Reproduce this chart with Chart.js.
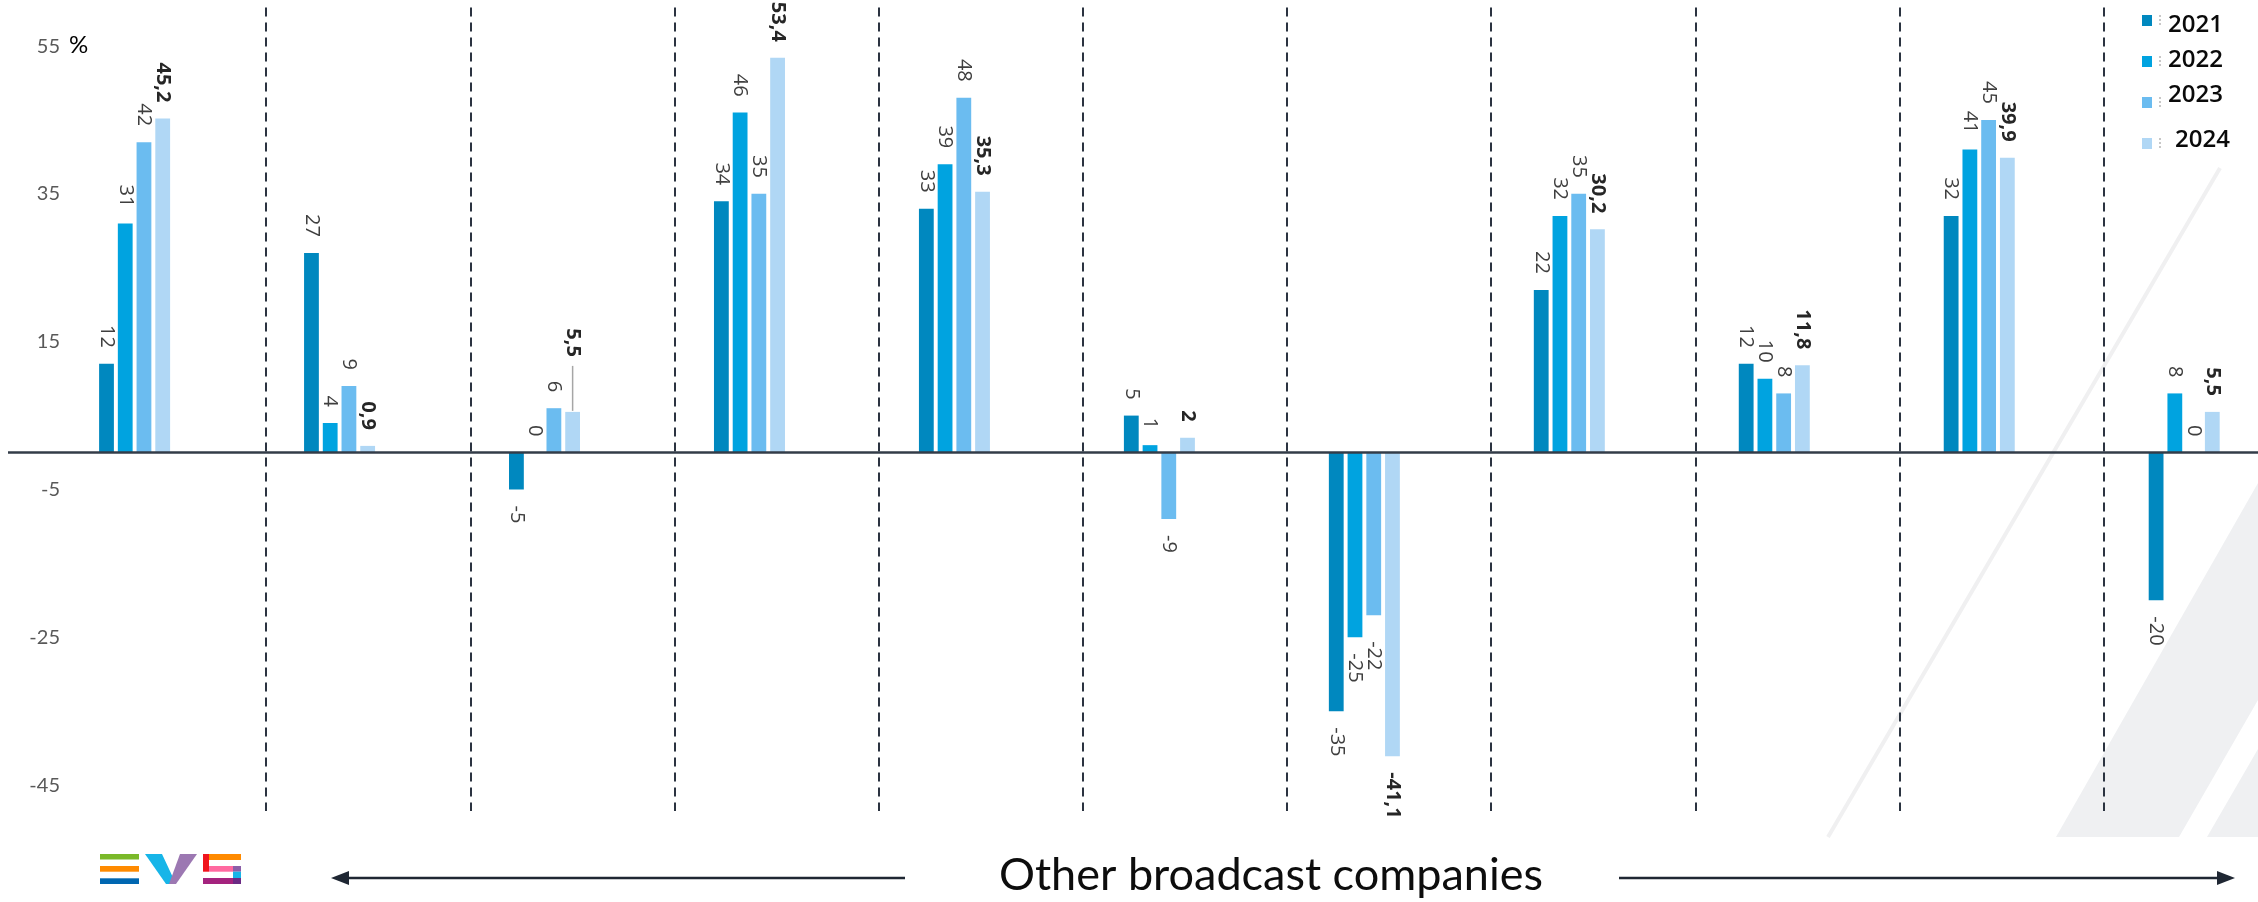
<!DOCTYPE html>
<html>
<head>
<meta charset="utf-8">
<script src="https://cdn.jsdelivr.net/npm/chart.js@4.4.1/dist/chart.umd.min.js"></script>
<style>
  html, body { margin: 0; padding: 0; background: #ffffff; }
  #wrap { width: 2258px; height: 902px; position: relative; }
</style>
</head>
<body>
<div id="wrap"><canvas id="c"></canvas></div>
<script>
// ---------- data ----------
const companies = ['C1', 'C2', 'C3', 'C4', 'C5', 'C6', 'C7', 'C8', 'C9', 'C10', 'C11'];
const years = ['2021', '2022', '2023', '2024'];
const values2021 = [12, 27, -5, 34, 33, 5, -35, 22, 12, 32, -20];
const values2022 = [31, 4, 0, 46, 39, 1, -25, 32, 10, 41, 8];
const values2023 = [42, 9, 6, 35, 48, -9, -22, 35, 8, 45, 0];
const values2024 = [45.2, 0.9, 5.5, 53.4, 35.3, 2, -41.1, 30.2, 11.8, 39.9, 5.5];
const yTickValues = [55, 35, 15, -5, -25, -45];
const axisUnit = '%';
const bottomTitle = 'Other broadcast companies';

// ---------- styles ----------
const yearColors = ['#0088bf', '#00a3e0', '#6bbcf0', '#b0d7f5'];
const seriesValues = [values2021, values2022, values2023, values2024];

const fmt = v => String(v).replace('.', ',');

// label adjustments (dataset:index) as in the reference
const labelTweaks = { '3:2': { lift: 39, leader: true }, '2:6': { drop: 10 } };

const decorPlugin = {
  id: 'decor',
  beforeDraw(chart) {
    const ctx = chart.ctx;
    ctx.save();
    ctx.fillStyle = '#eff0f2';
    ctx.beginPath();
    ctx.moveTo(2056, 837); ctx.lineTo(2179, 837); ctx.lineTo(2258, 700); ctx.lineTo(2258, 483);
    ctx.closePath(); ctx.fill();
    ctx.beginPath();
    ctx.moveTo(2207, 837); ctx.lineTo(2258, 837); ctx.lineTo(2258, 749);
    ctx.closePath(); ctx.fill();
    ctx.strokeStyle = '#f0f0f1';
    ctx.lineWidth = 4;
    ctx.beginPath(); ctx.moveTo(2220, 168); ctx.lineTo(1828, 837); ctx.stroke();
    ctx.restore();
  }
};

const separatorPlugin = {
  id: 'separators',
  beforeDatasetsDraw(chart) {
    const { ctx, scales: { x, y } } = chart;
    const first = 0.643, step = 0.9962;
    ctx.save();
    ctx.strokeStyle = '#2b3340';
    ctx.lineWidth = 2;
    ctx.setLineDash([9, 6]);
    for (let k = 0; k < companies.length - 1; k++) {
      const px = Math.round(x.getPixelForValue(first + k * step));
      ctx.beginPath();
      ctx.moveTo(px, y.getPixelForValue(y.max) + 2);
      ctx.lineTo(px, y.getPixelForValue(y.min));
      ctx.stroke();
    }
    ctx.restore();
  }
};

const labelPlugin = {
  id: 'barLabels',
  afterDatasetsDraw(chart) {
    const { ctx, scales: { y } } = chart;
    const gap = 16;
    // zero line
    ctx.save();
    ctx.strokeStyle = '#333c48';
    ctx.lineWidth = 2.5;
    const y0 = y.getPixelForValue(0);
    ctx.beginPath(); ctx.moveTo(8, y0); ctx.lineTo(chart.width, y0); ctx.stroke();
    ctx.restore();

    chart.data.datasets.forEach((ds, di) => {
      const meta = chart.getDatasetMeta(di);
      const bold = di === 3;
      meta.data.forEach((bar, i) => {
        const v = ds.data[i];
        const p = bar.getProps(['x', 'y', 'base'], true);
        const tw = labelTweaks[di + ':' + i] || {};
        let ay, align;
        if (v >= 0) { ay = Math.min(p.y, p.base) - gap - (tw.lift || 0); align = 'right'; }
        else { ay = Math.max(p.y, p.base) + gap + (tw.drop || 0); align = 'left'; }
        ctx.save();
        ctx.font = (bold ? '700 ' : '400 ') + '20px "Open Sans"';
        ctx.fillStyle = bold ? '#262626' : '#3f3f3f';
        ctx.translate(p.x, ay);
        ctx.rotate(Math.PI / 2);
        ctx.textAlign = align;
        ctx.textBaseline = 'middle';
        ctx.fillText(fmt(v), 0, 0);
        ctx.restore();
        if (tw.leader) {
          ctx.save();
          ctx.strokeStyle = '#a6a6a6';
          ctx.lineWidth = 1.5;
          ctx.beginPath();
          ctx.moveTo(p.x, ay + 9);
          ctx.lineTo(p.x, Math.min(p.y, p.base) - 1);
          ctx.stroke();
          ctx.restore();
        }
      });
    });
  }
};

const extrasPlugin = {
  id: 'extras',
  afterDraw(chart) {
    const { ctx, scales: { y } } = chart;
    ctx.save();
    // unit
    ctx.font = '400 24px Lato';
    ctx.fillStyle = '#000';
    ctx.textAlign = 'left';
    ctx.textBaseline = 'middle';
    ctx.fillText(axisUnit, 69, y.getPixelForValue(55) - 1);

    // legend
    const sqTops = [15, 56, 97, 138];
    const txtX = [2168, 2168, 2168, 2175];
    const txtY = [25, 60, 95, 140];
    chart.data.datasets.forEach((ds, i) => {
      ctx.fillStyle = ds.backgroundColor;
      ctx.fillRect(2142, sqTops[i], 10, 11);
      ctx.save();
      ctx.strokeStyle = '#b5b5b5';
      ctx.lineWidth = 1.5;
      ctx.setLineDash([2, 2]);
      ctx.beginPath(); ctx.moveTo(2160, sqTops[i]); ctx.lineTo(2160, sqTops[i] + 11); ctx.stroke();
      ctx.restore();
      ctx.fillStyle = '#0a0a0a';
      ctx.font = '600 24px "Open Sans"';
      ctx.textAlign = 'left';
      ctx.textBaseline = 'middle';
      ctx.fillText(ds.label, txtX[i], txtY[i]);
    });

    // bottom arrows and title
    const ay = 878;
    ctx.strokeStyle = '#1f2733';
    ctx.fillStyle = '#1f2733';
    ctx.lineWidth = 2.5;
    ctx.beginPath(); ctx.moveTo(905, ay); ctx.lineTo(345, ay); ctx.stroke();
    ctx.beginPath(); ctx.moveTo(331, ay); ctx.lineTo(349, ay - 7); ctx.lineTo(349, ay + 7); ctx.closePath(); ctx.fill();
    ctx.beginPath(); ctx.moveTo(1619, ay); ctx.lineTo(2220, ay); ctx.stroke();
    ctx.beginPath(); ctx.moveTo(2235, ay); ctx.lineTo(2217, ay - 7); ctx.lineTo(2217, ay + 7); ctx.closePath(); ctx.fill();

    ctx.fillStyle = '#0d0d0d';
    ctx.font = '400 45px Lato';
    ctx.textAlign = 'center';
    ctx.textBaseline = 'middle';
    ctx.fillText(bottomTitle, 1271, 875);

    // logo
    const r = (c, x, yy, w, h) => { ctx.fillStyle = c; ctx.fillRect(x, yy, w, h); };
    r('#7ab929', 100, 854, 39, 5.5);
    r('#ff8a00', 100, 866, 39, 5.7);
    r('#0067b1', 100, 878.3, 39, 5.7);
    ctx.fillStyle = '#17b5e8';
    ctx.beginPath(); ctx.moveTo(145, 854); ctx.lineTo(162, 854); ctx.lineTo(176, 884); ctx.lineTo(166, 884); ctx.closePath(); ctx.fill();
    ctx.fillStyle = '#9c78b2';
    ctx.beginPath(); ctx.moveTo(180, 854); ctx.lineTo(197, 854); ctx.lineTo(176, 884); ctx.lineTo(169, 884); ctx.closePath(); ctx.fill();
    r('#f0141e', 203, 854, 6, 17.7);
    r('#ff8a00', 209, 854, 32, 6);
    r('#ff69a0', 209, 866, 24, 5.7);
    r('#8b5ea8', 233, 866, 8, 5.7);
    r('#17b5e8', 233, 871.7, 8, 6.3);
    r('#a4237e', 203, 878, 30, 6);
    r('#6b2a84', 233, 878, 8, 6);
    ctx.restore();
  }
};

const datasets = years.map((yr, i) => ({
  label: yr,
  data: seriesValues[i],
  backgroundColor: yearColors[i],
  borderWidth: 0,
  categoryPercentage: 0.3656,
  barPercentage: 0.79,
  clip: false
}));

new Chart(document.getElementById('c'), {
  type: 'bar',
  data: { labels: companies, datasets },
  options: {
    responsive: true,
    maintainAspectRatio: false,
    animation: false,
    events: [],
    layout: { padding: { left: 0, right: 73.8, top: 5.4, bottom: 91 } },
    plugins: { legend: { display: false }, tooltip: { enabled: false } },
    scales: {
      x: { type: 'category', offset: false, display: false },
      y: {
        min: -48.5,
        max: 60.5,
        afterBuildTicks: s => { s.ticks = yTickValues.map(v => ({ value: v })); },
        afterFit: s => { s.width = 134.6; s.paddingTop = 0; s.paddingBottom = 0; },
        grid: { display: false, drawTicks: false },
        border: { display: false },
        ticks: {
          padding: 74.6,
          color: '#595959',
          font: { family: 'Lato', size: 20 },
          callback: v => String(v)
        }
      }
    }
  },
  plugins: [decorPlugin, separatorPlugin, labelPlugin, extrasPlugin]
});
</script>
</body>
</html>
